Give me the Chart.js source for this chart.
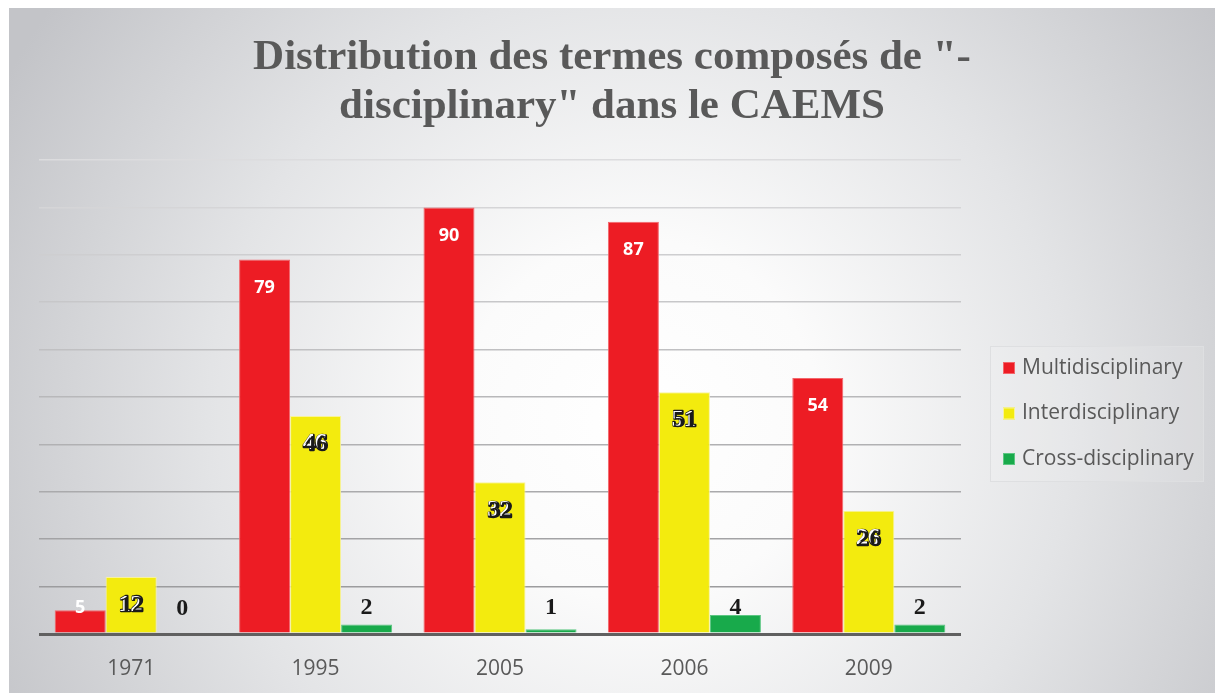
<!DOCTYPE html>
<html>
<head>
<meta charset="utf-8">
<script src="https://cdn.jsdelivr.net/npm/chart.js@4.4.1/dist/chart.umd.min.js"></script>
<style>
html,body{margin:0;padding:0;background:#fff;}
canvas{display:block;}
</style>
</head>
<body>
<canvas id="c" width="1215" height="693"></canvas>
<script>
const categories = ['1971', '1995', '2005', '2006', '2009'];
const multidisciplinary = [5, 79, 90, 87, 54];
const interdisciplinary = [12, 46, 32, 51, 26];
const crossdisciplinary = [0, 2, 1, 4, 2];
const seriesNames = ['Multidisciplinary', 'Interdisciplinary', 'Cross-disciplinary'];
const titleLines = ['Distribution des termes composés de "-', 'disciplinary" dans le CAEMS'];

const bgPlugin = {
  id: 'bg',
  beforeDraw(chart) {
    const ctx = chart.ctx;
    ctx.save();
    ctx.fillStyle = '#ffffff';
    ctx.fillRect(0, 0, chart.width, chart.height);
    const g = ctx.createRadialGradient(640, 420, 0, 640, 420, 720);
    g.addColorStop(0, '#ffffff');
    g.addColorStop(0.25, '#fbfbfb');
    g.addColorStop(0.6, '#e3e4e6');
    g.addColorStop(1, '#c3c4c8');
    ctx.fillStyle = g;
    ctx.fillRect(9, 8, chart.width - 9, chart.height - 8);
    ctx.restore();
  }
};

const legendPlugin = {
  id: 'boxLegend',
  afterDraw(chart) {
    const ctx = chart.ctx;
    const area = chart.chartArea;
    ctx.save();
    const x0 = area.right + 29, y0 = 346, w = 213, h = 135;
    ctx.fillStyle = 'rgba(255,255,255,0.12)';
    ctx.fillRect(x0, y0, w, h);
    ctx.strokeStyle = '#dedfe1';
    ctx.lineWidth = 1;
    ctx.strokeRect(Math.round(x0) + 0.5, y0 + 0.5, w, h);
    ctx.font = '21px "Open Sans"';
    ctx.textBaseline = 'middle';
    ctx.textAlign = 'left';
    const rowH = 45.5;
    const cy0 = y0 + h / 2 - rowH;
    chart.data.datasets.forEach((ds, i) => {
      const cy = cy0 + i * rowH;
      ctx.fillStyle = ds.backgroundColor;
      ctx.fillRect(x0 + 13, cy - 6, 12, 12);
      ctx.strokeStyle = ds.borderColor;
      ctx.strokeRect(x0 + 13.5, cy - 5.5, 11, 11);
      ctx.fillStyle = '#595959';
      ctx.fillText(ds.label, x0 + 32, cy);
    });
    ctx.restore();
  }
};

const labelPlugin = {
  id: 'valueLabels',
  afterDatasetsDraw(chart) {
    const ctx = chart.ctx;
    ctx.save();
    ctx.textAlign = 'center';
    ctx.textBaseline = 'middle';
    chart.data.datasets.forEach((ds, di) => {
      const meta = chart.getDatasetMeta(di);
      meta.data.forEach((el, i) => {
        const v = ds.data[i];
        const x = el.x;
        const y = Math.min(el.y + 28, el.base - 25);
        const txt = String(v);
        if (di === 0) {
          ctx.font = 'bold 18px "Open Sans"';
          ctx.fillStyle = '#ffffff';
          ctx.fillText(txt, x, y);
        } else if (di === 1) {
          ctx.font = 'bold 24px "Liberation Serif"';
          ctx.lineWidth = 2.5;
          ctx.strokeStyle = '#1a1a1a';
          ctx.lineJoin = 'round';
          ctx.strokeText(txt, x, y);
          ctx.fillStyle = '#ffffff';
          ctx.fillText(txt, x - 0.7, y - 0.7);
          ctx.fillStyle = '#1a1a1a';
          ctx.fillText(txt, x + 0.7, y + 0.7);
        } else {
          ctx.font = 'bold 24px "Liberation Serif"';
          ctx.fillStyle = '#1a1a1a';
          ctx.fillText(txt, x, y);
        }
      });
    });
    ctx.restore();
  }
};

function gridColor(ctx) {
  const v = ctx.tick ? ctx.tick.value : 0;
  if (v === 0) return '#606060';
  const t = (v - 10) / 90;
  const c = Math.round(0x9c + t * (0xdc - 0x9c));
  return 'rgb(' + c + ',' + c + ',' + (c + 2) + ')';
}

new Chart(document.getElementById('c'), {
  type: 'bar',
  data: {
    labels: categories,
    datasets: [
      { label: seriesNames[0], data: multidisciplinary, backgroundColor: '#ED1C24', borderColor: '#F3666B', borderWidth: 1 },
      { label: seriesNames[1], data: interdisciplinary, backgroundColor: '#F3EB0E', borderColor: '#F8F39A', borderWidth: 1 },
      { label: seriesNames[2], data: crossdisciplinary, backgroundColor: '#18AA4B', borderColor: '#5CC682', borderWidth: 1 }
    ]
  },
  options: {
    responsive: false,
    animation: false,
    devicePixelRatio: 1,
    layout: { padding: { left: 9, right: 0, top: 0, bottom: 13 } },
    datasets: { bar: { categoryPercentage: 0.83, barPercentage: 1 } },
    plugins: {
      title: {
        display: true,
        text: titleLines,
        color: '#595959',
        font: { family: '"Liberation Serif"', size: 43, weight: 'bold', lineHeight: 1.14 },
        padding: { top: 33, bottom: 29 }
      },
      legend: { display: false },
      tooltip: { enabled: false }
    },
    scales: {
      x: {
        grid: { display: false, drawTicks: false },
        border: { display: false },
        ticks: { color: '#595959', font: { family: '"Open Sans"', size: 21 }, padding: 22 },
        afterFit(scale) { scale.height = 46; }
      },
      y: {
        min: 0,
        max: 100,
        ticks: { display: false, stepSize: 10 },
        border: { display: false },
        grid: {
          drawTicks: false,
          color: gridColor,
          lineWidth: (ctx) => (ctx.tick && ctx.tick.value === 0 ? 3 : 1.5)
        },
        afterFit(scale) { scale.width = 30; }
      },
      yR: {
        position: 'right',
        display: true,
        grid: { display: false, drawTicks: false },
        border: { display: false },
        ticks: { display: false },
        afterFit(scale) { scale.width = 254; }
      }
    }
  },
  plugins: [bgPlugin, labelPlugin, legendPlugin]
});
</script>
</body>
</html>
